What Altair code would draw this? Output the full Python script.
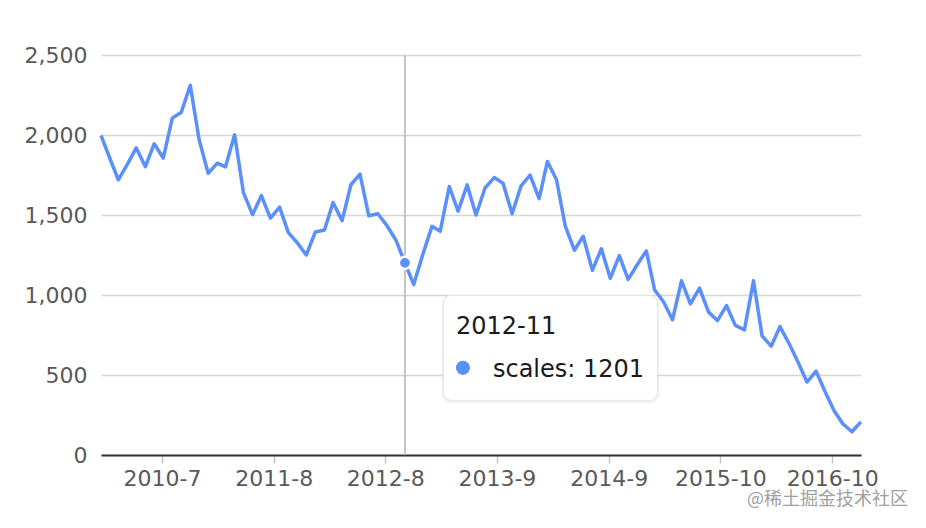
import altair as alt
import pandas as pd

months = [
    "2010-01", "2010-02", "2010-03", "2010-04", "2010-05", "2010-06", "2010-07", "2010-08", "2010-09", "2010-10", "2010-11", "2010-12",
    "2011-01", "2011-02", "2011-03", "2011-04", "2011-05", "2011-06", "2011-07", "2011-08", "2011-09", "2011-10", "2011-11", "2011-12",
    "2012-01", "2012-02", "2012-03", "2012-04", "2012-05", "2012-06", "2012-07", "2012-08", "2012-09", "2012-10", "2012-11", "2012-12",
    "2013-01", "2013-02", "2013-03", "2013-04", "2013-05", "2013-06", "2013-07", "2013-08", "2013-09", "2013-10", "2013-11", "2013-12",
    "2014-01", "2014-02", "2014-03", "2014-04", "2014-05", "2014-06", "2014-07", "2014-08", "2014-09", "2014-10", "2014-11", "2014-12",
    "2015-01", "2015-02", "2015-03", "2015-04", "2015-05", "2015-06", "2015-07", "2015-08", "2015-09", "2015-10", "2015-11", "2015-12",
    "2016-01", "2016-02", "2016-03", "2016-04", "2016-05", "2016-06", "2016-07", "2016-08", "2016-09", "2016-10", "2016-11", "2016-12",
    "2017-01", "2017-02",
]
scales = [
    1998, 1850, 1720, 1818, 1920, 1802, 1945, 1856, 2107, 2140, 2311, 1972,
    1760, 1824, 1801, 2001, 1640, 1502, 1621, 1480, 1549, 1390, 1325, 1250,
    1394, 1406, 1578, 1465, 1689, 1755, 1495, 1508, 1433, 1344, 1201, 1065,
    1255, 1429, 1398, 1678, 1524, 1688, 1500, 1670, 1734, 1699, 1508, 1680,
    1750, 1602, 1834, 1722, 1430, 1280, 1367, 1155, 1289, 1104, 1246, 1098,
    1189, 1276, 1033, 956, 845, 1089, 944, 1043, 893, 840, 934, 810,
    782, 1089, 745, 680, 802, 697, 583, 456, 524, 398, 278, 195,
    145, 207,
]
x_tick_dates = [(2010, 7, 28), (2011, 8, 12), (2012, 8, 26), (2013, 9, 10),
                (2014, 9, 26), (2015, 10, 11), (2016, 10, 26)]
y_ticks = [0, 500, 1000, 1500, 2000, 2500]
focus_month = "2012-11"
watermark = "@稀土掘金技术社区"

LINE = "#5B8FF9"

df = pd.DataFrame({"Date": months, "label": [m[:5] + str(int(m[5:])) for m in months], "scales": scales})

x_enc = alt.X(
    "Date:T",
    scale=alt.Scale(
        type="utc",
        domain=[alt.DateTime(year=2010, month=1, date=1, utc=True),
                alt.DateTime(year=2017, month=2, date=1, utc=True)],
        nice=False,
    ),
    axis=alt.Axis(
        values=[alt.DateTime(year=y, month=m, date=d, utc=True) for (y, m, d) in x_tick_dates],
        labelExpr="utcFormat(datum.value, '%Y-%-m')",
        title=None, grid=False,
        domainColor="#333333", domainWidth=2,
        tickColor="#c4c4c4", tickWidth=1.5, tickSize=8,
        labelFont="DejaVu Sans", labelFontSize=22, labelColor="#595959",
        labelPadding=5, labelFlush=False, labelOverlap=False,
    ),
)
y_enc = alt.Y(
    "scales:Q",
    scale=alt.Scale(domain=[0, 2500], nice=False, zero=True),
    axis=alt.Axis(
        values=y_ticks, format=",d", title=None,
        domain=False, ticks=False, grid=True,
        gridColor="#d6d6d6", gridWidth=1.5,
        labelFont="DejaVu Sans", labelFontSize=22, labelColor="#595959",
        labelPadding=14,
    ),
)

base = alt.Chart(df)

line = base.mark_line(color=LINE, strokeWidth=3.5, strokeJoin="round").encode(x=x_enc, y=y_enc)

focus = base.transform_filter(alt.datum.label == focus_month)

rule = focus.mark_rule(color="#c4c4c4", strokeWidth=2).encode(x=x_enc)

dot = focus.mark_circle(size=150, color=LINE, opacity=1, stroke="white", strokeWidth=2.5).encode(
    x=x_enc, y=y_enc)

shadow = focus.mark_rect(
    xOffset=36.5, x2Offset=254.5, yOffset=32, y2Offset=140.5,
    cornerRadius=10, fill="#000000", opacity=0.05,
).encode(x=x_enc, x2="Date:T", y=y_enc, y2="scales:Q")

box = focus.mark_rect(
    xOffset=38.5, x2Offset=252.5, yOffset=32.5, y2Offset=137.5,
    cornerRadius=8, fill="white", stroke="#e6e6e6", strokeWidth=1,
).encode(x=x_enc, x2="Date:T", y=y_enc, y2="scales:Q")

title_txt = focus.mark_text(
    dx=51, dy=71.5, align="left", baseline="alphabetic",
    font="DejaVu Sans", fontSize=24, color="#1a1a1a",
).encode(x=x_enc, y=y_enc, text="label:N")

tip_dot = focus.mark_circle(size=200, color=LINE, opacity=1, xOffset=58, yOffset=105).encode(
    x=x_enc, y=y_enc)

value_txt = focus.transform_calculate(
    tip="'scales: ' + datum.scales"
).mark_text(
    dx=88, dy=114.5, align="left", baseline="alphabetic",
    font="DejaVu Sans", fontSize=24, color="#1a1a1a",
).encode(x=x_enc, y=y_enc, text="tip:N")

wm = alt.Chart(pd.DataFrame({"t": [watermark]})).mark_text(
    align="right", baseline="alphabetic", font="Noto Sans CJK SC", fontSize=18,
    color="#a0a0a0",
).encode(x=alt.value(807), y=alt.value(450), text="t:N")

chart = alt.layer(rule, line, dot, shadow, box, title_txt, tip_dot, value_txt, wm).properties(
    width=760, height=400,
    autosize=alt.AutoSizeParams(type="none"),
    padding={"left": 93, "top": 47, "right": 57, "bottom": 57},
    view=alt.ViewBackground(stroke="transparent", strokeWidth=0),
).configure_view(strokeWidth=0, stroke="transparent").configure_axisX(grid=False).configure(background="white")

chart.save("out.html", embed_options={"renderer": "svg", "actions": False})
